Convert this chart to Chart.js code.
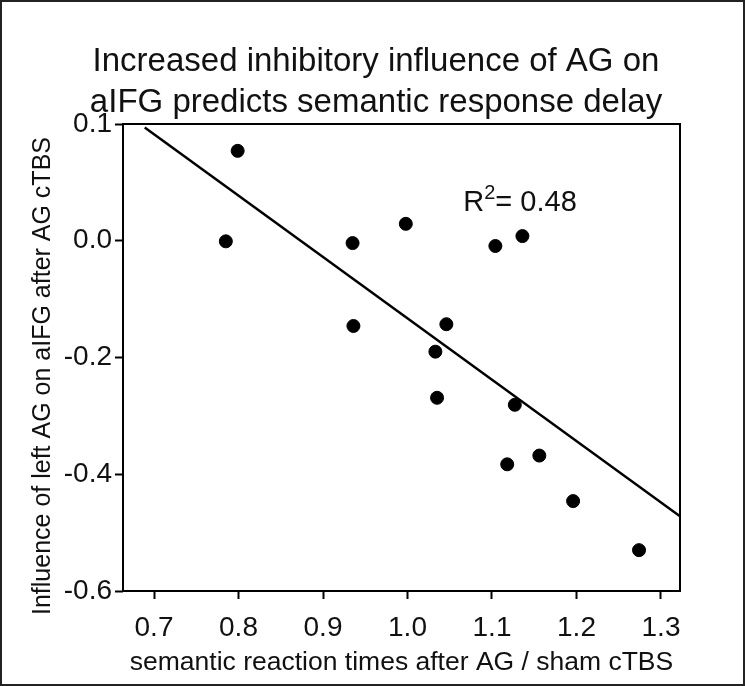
<!DOCTYPE html>
<html>
<head>
    <title>AG cTBS scatter</title>
    <meta charset="utf-8">
    <style>
        body{ margin:0; background:#fff;}
        .wrapper{ width:745px; height:686px; position:relative;}
    </style>
    <script src="https://cdn.jsdelivr.net/npm/chart.js@4.4.1/dist/chart.umd.min.js"></script>
</head>
<body>
    <div class="wrapper">
        <canvas id="myChart" width="745" height="686"></canvas>
    </div>

    <script>
        // values
        var rtRatio   = [0.799, 0.785, 0.935, 0.998, 1.104, 1.136, 0.936, 1.046, 1.033, 1.035, 1.127, 1.118, 1.156, 1.196, 1.274];
        var influence = [0.154, -0.001, -0.004, 0.029, -0.009, 0.008, -0.146, -0.143, -0.190, -0.269, -0.281, -0.383, -0.368, -0.446, -0.530];

        // regression line end points
        var fitX = [0.689, 1.3225];
        var fitY = [0.194, -0.472];

        var xTicks = [0.7, 0.8, 0.9, 1.0, 1.1, 1.2, 1.3];
        var yTicks = [-0.6, -0.4, -0.2, 0.0, 0.2];
        var yTickLabels = ['-0.6', '-0.4', '-0.2', '0.0', '0.1'];

        var titleLines = ['Increased inhibitory influence of AG on', 'aIFG predicts semantic response delay'];
        var yTitle = 'Influence of left AG on aIFG after AG cTBS';
        var r2Label = '0.48';
        var r2Pos = [1.066, 0.051];

        var FONT = "'Liberation Sans', Arial, sans-serif";

        var points = [];
        for (var i in rtRatio) {
            points.push({x: rtRatio[i], y: influence[i]});
        }
        var fitLine = [];
        for (var j in fitX) {
            fitLine.push({x: fitX[j], y: fitY[j]});
        }

        // box round the plot, frame round the figure, titles, R^2 text
        const extras = {
            id: 'extras',
            afterDraw(chart) {
                const ctx = chart.ctx;
                const a = chart.chartArea;
                ctx.save();
                ctx.strokeStyle = '#000';
                ctx.lineWidth = 2;
                ctx.strokeRect(a.left, a.top, a.right - a.left, a.bottom - a.top);
                ctx.strokeStyle = '#222';
                ctx.strokeRect(1, 1, 743, 684);

                ctx.fillStyle = '#111';
                ctx.textAlign = 'center';
                ctx.textBaseline = 'middle';
                ctx.font = '33px ' + FONT;
                ctx.fillText(titleLines[0], 376, 62);
                ctx.fillText(titleLines[1], 376, 103);

                // y axis title, sits a bit lower than the axis centre in the figure
                ctx.save();
                ctx.translate(43, 376);
                ctx.rotate(-Math.PI / 2);
                ctx.font = '25px ' + FONT;
                ctx.fillText(yTitle, 0, 0);
                ctx.restore();

                const px = chart.scales.x.getPixelForValue(r2Pos[0]);
                const py = chart.scales.y.getPixelForValue(r2Pos[1]);
                ctx.textAlign = 'left';
                ctx.textBaseline = 'alphabetic';
                ctx.font = '29px ' + FONT;
                ctx.fillText('R', px, py);
                let w = ctx.measureText('R').width;
                ctx.font = '20px ' + FONT;
                ctx.fillText('2', px + w, py - 12);
                w += ctx.measureText('2').width;
                ctx.font = '29px ' + FONT;
                ctx.fillText('= ' + r2Label, px + w, py);
                ctx.restore();
            }
        };

        const config = {
            type: 'scatter',
            data: {
                datasets: [{
                    data: points,
                    backgroundColor: '#000',
                    borderColor: '#000',
                    pointRadius: 6.5,
                    pointHoverRadius: 6.5
                },
                {
                    type: 'line',
                    data: fitLine,
                    borderColor: '#000',
                    borderWidth: 2.5,
                    pointRadius: 0,
                    fill: false
                }]
            },
            options: {
                responsive: false,
                animation: false,
                events: [],
                layout: { padding: { left: 0, right: 65, top: 124, bottom: 0 } },
                plugins: {
                    legend: { display: false },
                    tooltip: { enabled: false },
                    title: { display: false }
                },
                scales: {
                    x: {
                        type: 'linear',
                        min: 0.6633,
                        max: 1.3225,
                        afterBuildTicks: function(scale) {
                            scale.ticks = xTicks.map(function(v) { return {value: v}; });
                        },
                        afterFit: function(scale) { scale.height = 95; },
                        border: { display: false },
                        grid: { drawOnChartArea: false, tickLength: 8, tickWidth: 2, tickColor: '#000' },
                        ticks: {
                            color: '#111',
                            padding: 12,
                            maxRotation: 0,
                            font: { family: FONT, size: 28 },
                            callback: function(v) { return v.toFixed(1); }
                        },
                        title: {
                            display: true,
                            text: 'semantic reaction times after AG / sham cTBS',
                            color: '#111',
                            font: { family: FONT, size: 26.5 },
                            padding: { top: 0, bottom: 7 }
                        }
                    },
                    y: {
                        type: 'linear',
                        min: -0.6,
                        max: 0.2,
                        afterBuildTicks: function(scale) {
                            scale.ticks = yTicks.map(function(v) { return {value: v}; });
                        },
                        afterFit: function(scale) { scale.width = 123; },
                        border: { display: false },
                        grid: { drawOnChartArea: false, tickLength: 8, tickWidth: 2, tickColor: '#000' },
                        ticks: {
                            color: '#111',
                            padding: 3,
                            font: { family: FONT, size: 28 },
                            callback: function(v, idx) { return yTickLabels[idx]; }
                        },
                        title: { display: false }
                    }
                }
            },
            plugins: [extras]
        };

        var myChart = new Chart(document.getElementById('myChart'), config);
    </script>
</body>
</html>
